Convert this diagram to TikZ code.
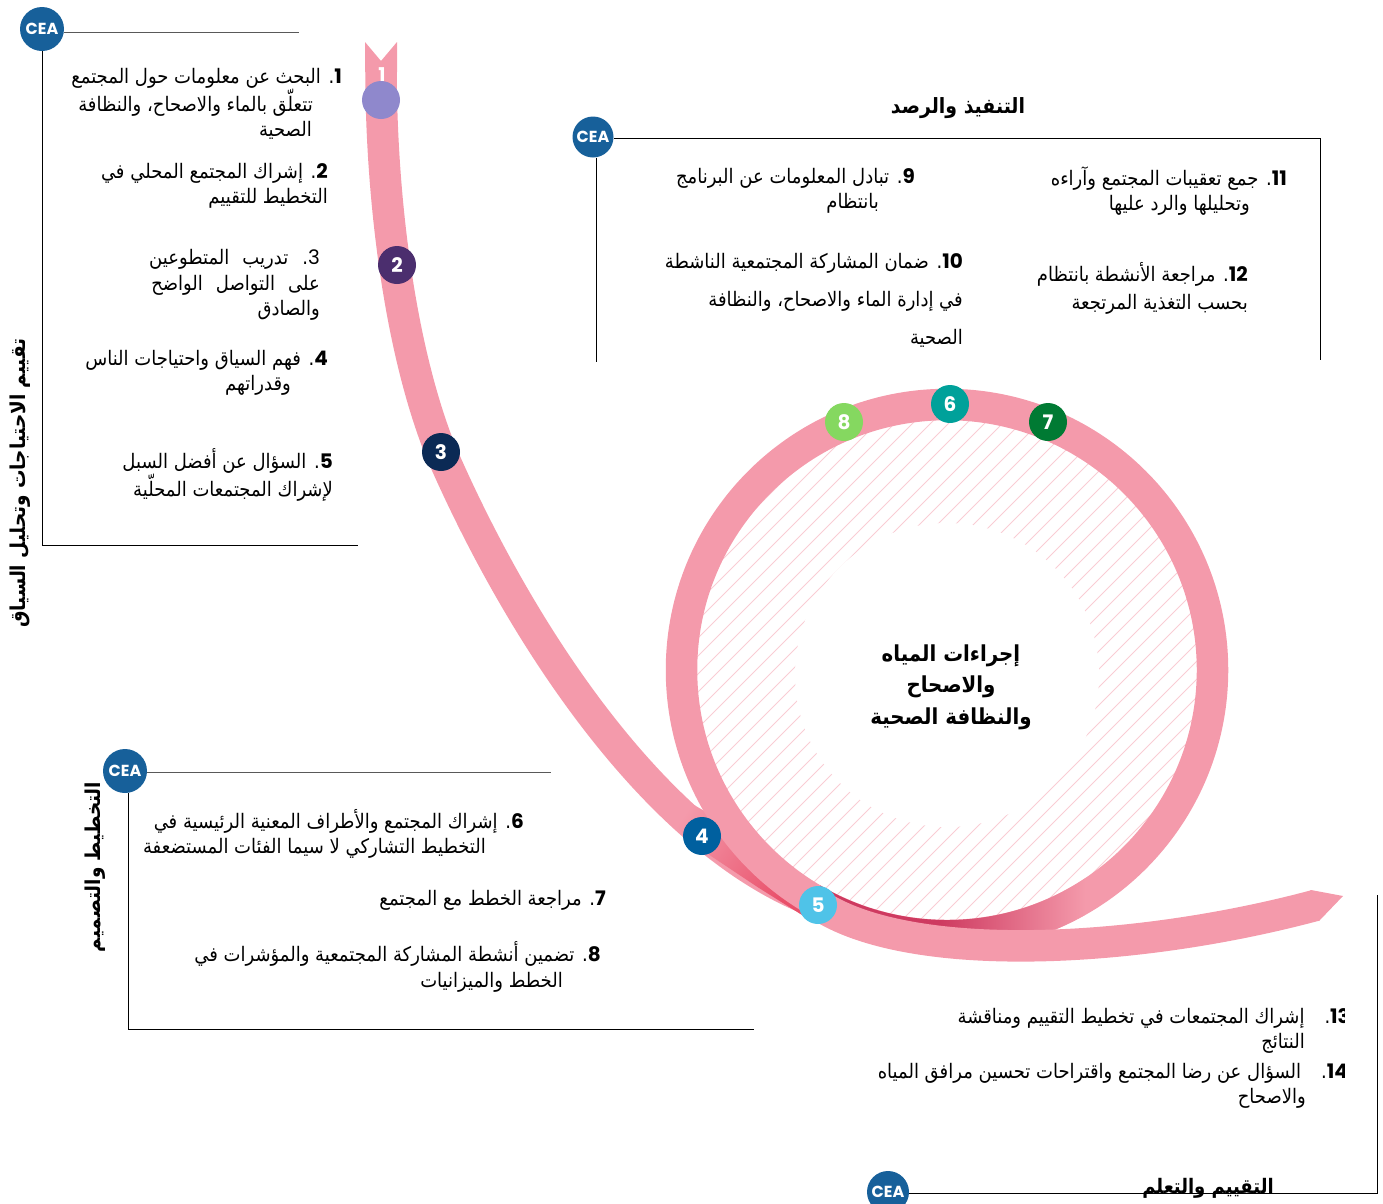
\documentclass[tikz,border=0pt]{standalone}
\usepackage{fontspec}
\usepackage{xcolor}
\usetikzlibrary{positioning}
\TeXXeTstate=1
\newfontfamily\arabicfont[Script=Arabic,FakeStretch=0.9]{DejaVu Sans}
\newfontfamily\numfont{Poppins}
\definecolor{ribbon}{HTML}{F49AAB}
\definecolor{ribbondark}{HTML}{CE3A60}
\definecolor{wedgedark}{HTML}{E9506A}
\definecolor{hatchpink}{HTML}{F9CDD4}
\definecolor{ceablue}{HTML}{17609A}
\definecolor{dotone}{HTML}{8F88CC}
\definecolor{dottwo}{HTML}{4B2E6E}
\definecolor{dotthree}{HTML}{0B2A55}
\definecolor{dotfour}{HTML}{00609F}
\definecolor{dotfive}{HTML}{4FC3E8}
\definecolor{dotsix}{HTML}{00A19A}
\definecolor{dotseven}{HTML}{007A33}
\definecolor{doteight}{HTML}{85D860}
\newcommand{\rl}[2][0]{\beginR #2\endR\kern#1pt}
\newcommand{\no}[1]{\beginL{\numfont\bfseries #1}\endL.}
\begin{document}
\begin{tikzpicture}[x=1pt,y=-1pt,
	ribbonline/.style={draw=ribbon,line width=31.5pt},
	stepdot/.style={circle,fill=#1,text=white,minimum size=38pt,inner sep=0pt,font=\numfont\bfseries\fontsize{20}{20}\selectfont},
	cea/.style={circle,fill=ceablue,text=white,minimum size=44pt,inner sep=0pt,font=\numfont\bfseries\fontsize{16}{16}\selectfont},
	frameline/.style={draw=black,line width=1pt},
	itemtext/.style={anchor=east,align=right,inner sep=0pt,font=\arabicfont\fontsize{20}{25.5}\selectfont},
	heading/.style={align=center,inner sep=0pt,font=\arabicfont\bfseries\fontsize{#1}{31.5}\selectfont}]
	\useasboundingbox (0,0) rectangle (1383,1203);

	% Hatched disc
	\begin{scope}
		\clip (947,670) circle[radius=252pt];
		\foreach \c in {264,282,...,972}
			\draw[hatchpink,line width=1pt] (\c,1000) -- (\c+700,300);
	\end{scope}
	\fill[white] (947,675) circle[radius=152pt];

	% Ribbon, first part
	\fill[ribbon] (365,42) -- (381,61) -- (397,42) -- (397,72) -- (365,72) -- cycle;
	\draw[ribbonline] (381,68) .. controls (381,200) and (400,350) .. (441,452) .. controls (517,627) and (652,838) .. (813,901) -- (830,911);
	\shade[top color=ribbon,bottom color=wedgedark,shading angle=55] (682,798) -- (665,818) -- (711,856) -- (759,888) -- (802,915) -- (790,880) -- (720,820) -- cycle;

	% Ring
	\draw[ribbonline] (947,670) circle[radius=265.5pt];
	\begin{scope}[even odd rule]
		\clip (947,670) circle[radius=281pt] (947,670) circle[radius=250pt];
		\fill[ribbondark] (820,880) rectangle (940,960);
		\shade[left color=ribbondark,right color=ribbon] (940,860) rectangle (1085,960);
	\end{scope}

	% Ribbon, second part
	\draw[ribbonline] (813,901) .. controls (900,965) and (1130,955) .. (1315,905.5);
	\fill[ribbon] (1311,890) -- (1343,896) -- (1319,921) -- (1305,915) -- (1300,898) -- cycle;

	% Numbered marks
	\node[text=white,inner sep=0pt,font=\numfont\bfseries\fontsize{19}{19}\selectfont] (m1t) at (382,75) {1};
	\node[stepdot=dotone] (m1) at (381,100) {};
	\node[stepdot=dottwo] (m2) at (397,265) {2};
	\node[stepdot=dotthree] (m3) at (441,452) {3};
	\node[stepdot=dotfour] (m4) at (702,836) {4};
	\node[stepdot=dotfive] (m5) at (818,905) {5};
	\node[stepdot=dotsix] (m6) at (950,404) {6};
	\node[stepdot=dotseven] (m7) at (1048,422) {7};
	\node[stepdot=doteight] (m8) at (844,422) {8};

	% Centre
	\node[heading=22] (hub) at (951,687) {\rl{إجراءات المياه}\\\rl{والاصحاح}\\\rl{والنظافة الصحية}};

	% Panel: needs and context
	\node[cea] (cea1) at (42,29) {CEA};
	\coordinate (c1a) at (299,32);
	\coordinate (c1b) at (42,545);
	\coordinate (c1c) at (358,545);
	\draw[frameline,draw=black!65] (cea1.east |- c1a) -- (c1a);
	\draw[frameline] (cea1.south) -- (c1b) -- (c1c);
	\node[heading=20.5,rotate=90] (title1) at (20,483) {\rl{تقييم الاحتياجات وتحليل السياق}};
	\node[itemtext] (t1) at (342,104) {\rl{\no{1} البحث عن معلومات حول المجتمع}\\\rl[29]{تتعلّق بالماء والاصحاح، والنظافة}\\\rl[30]{الصحية}};
	\node[itemtext] (t2) at (328,186) {\rl{\no{2} إشراك المجتمع المحلي في}\\\rl{التخطيط للتقييم}};
	\node[itemtext] (t3) at (320,285) {\rl{\beginL{\numfont 3}\endL.\hskip 14pt تدريب\hskip 13pt المتطوعين}\\\rl{على\hskip 13pt التواصل\hskip 13pt الواضح}\\\rl{والصادق}};
	\node[itemtext] (t4) at (328,373) {\rl{\no{4} فهم السياق واحتياجات الناس}\\\rl[37]{وقدراتهم}};
	\node[itemtext] (t5) at (333,475) {\rl{\no{5} السؤال عن أفضل السبل}\\\rl{لإشراك المجتمعات المحلّية}};

	% Panel: monitoring
	\node[cea,minimum size=41pt] (cea2) at (593,137) {CEA};
	\coordinate (c2a) at (1320,138);
	\coordinate (c2b) at (1320,360);
	\coordinate (c2c) at (596,362);
	\draw[frameline] (cea2.east |- c2a) -- (c2a) -- (c2b);
	\draw[frameline] (cea2.south -| c2c) -- (c2c);
	\node[heading=21] (title2) at (958,108) {\rl{التنفيذ والرصد}};
	\node[itemtext] (t9) at (915,191) {\rl{\no{9} تبادل المعلومات عن البرنامج}\\\rl[36]{بانتظام}};
	\node[itemtext,font=\arabicfont\fontsize{20}{38}\selectfont] (t10) at (963,300) {\rl{\no{10} ضمان المشاركة المجتمعية الناشطة}\\\rl{في إدارة الماء والاصحاح، والنظافة}\\\rl{الصحية}};
	\node[itemtext] (t11) at (1287,191) {\rl{\no{11} جمع تعقيبات المجتمع وآراءه}\\\rl[37]{وتحليلها والرد عليها}};
	\node[itemtext,font=\arabicfont\fontsize{20}{28}\selectfont] (t12) at (1248,288) {\rl{\no{12} مراجعة الأنشطة بانتظام}\\\rl{بحسب التغذية المرتجعة}};

	% Panel: planning
	\node[cea] (cea3) at (125,771) {CEA};
	\coordinate (c3a) at (551,772);
	\coordinate (c3b) at (128,1029);
	\coordinate (c3c) at (754,1029);
	\draw[frameline,draw=black!65] (cea3.east |- c3a) -- (c3a);
	\draw[frameline] (cea3.south -| c3b) -- (c3b) -- (c3c);
	\node[heading=20.5,rotate=90] (title3) at (95,867) {\rl{التخطيط والتصميم}};
	\node[itemtext] (t6) at (524,834) {\rl{\no{6} إشراك المجتمع والأطراف المعنية الرئيسية في}\\\rl[38]{التخطيط التشاركي لا سيما الفئات المستضعفة}};
	\node[itemtext] (t7) at (606,900) {\rl{\no{7} مراجعة الخطط مع المجتمع}};
	\node[itemtext] (t8) at (601,967) {\rl{\no{8} تضمين أنشطة المشاركة المجتمعية والمؤشرات في}\\\rl[38]{الخطط والميزانيات}};

	% Panel: evaluation
	\node[cea,minimum size=42pt] (cea4) at (888,1192) {CEA};
	\coordinate (c4a) at (1377,1193);
	\coordinate (c4b) at (1377,895);
	\draw[frameline] (cea4.east |- c4a) -- (c4a) -- (c4b);
	\node[heading=20] (title4) at (1208,1188) {\rl{التقييم والتعلم}};
	\begin{scope}
		\clip (800,1000) rectangle (1344,1115);
		\node[itemtext] (t13) at (1350,1031) {\rl{\no{13}\quad إشراك المجتمعات في تخطيط التقييم ومناقشة}\\\rl[45]{النتائج}};
		\node[itemtext] (t14) at (1348,1086) {\rl{\no{14}\quad السؤال عن رضا المجتمع واقتراحات تحسين مرافق المياه}\\\rl[42]{والاصحاح}};
	\end{scope}
\end{tikzpicture}
\end{document}
